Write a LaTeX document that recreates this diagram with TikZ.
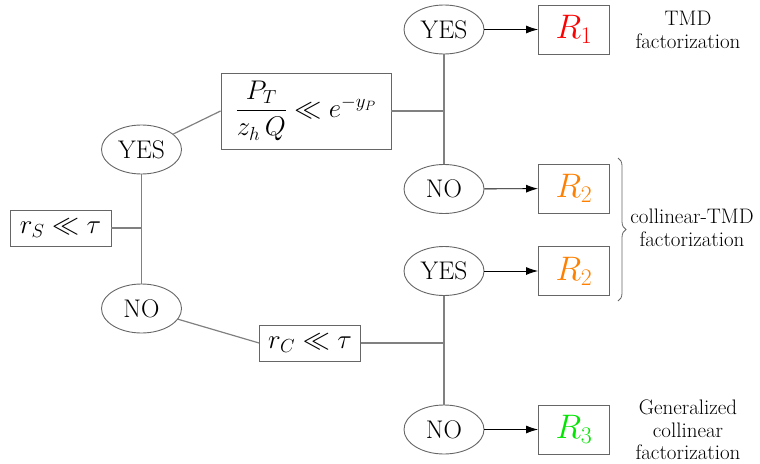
\RequirePackage{fix-cm}
\documentclass[tikz,border=0pt]{standalone}
\usepackage{amsmath}
\usepackage{tikz}
\usetikzlibrary{shapes.geometric, arrows.meta, decorations.pathreplacing, calc}
\definecolor{rone}{HTML}{FF0000}
\definecolor{rtwo}{HTML}{FF8000}
\definecolor{rthree}{HTML}{00E600}
\tikzset{
	decision/.style={ellipse, draw=black!60, line width=0.9pt, inner sep=0pt,
		minimum width=80pt, minimum height=49pt, font=\fontsize{25.5}{30}\selectfont}
}
\tikzset{
	condbox/.style={rectangle, draw=black!60, line width=0.9pt, inner sep=0pt,
		font=\fontsize{27}{32}\selectfont},
	resultbox/.style={rectangle, draw=black!60, line width=0.9pt, inner sep=0pt,
		minimum width=71pt, minimum height=49pt, font=\fontsize{34}{38}\selectfont},
	link/.style={draw=black!50, line width=1.2pt},
	outcome/.style={draw=black, line width=0.9pt, -{Latex[length=12pt,width=8pt]}},
	sidetext/.style={align=center, font=\fontsize{21}{22.5}\selectfont}
}

\begin{document}
\begin{tikzpicture}[x=1pt, y=-1pt]
      \useasboundingbox (0,0) rectangle (760,463);

      % first test: soft scale
      \node[condbox, minimum width=101pt, minimum height=36pt] (rS) at (60.5,228) {$r_S \ll \tau$};
      \node[decision] (yesA) at (141.5,149.5) {YES};
      \node[decision] (noA) at (141.5,308.5) {NO};
      \coordinate (jA) at (141.5,228);
      \draw[link] (yesA) -- (noA);
      \draw[link] (rS.east) -- (jA);

      % second tests
      \node[condbox, minimum width=170pt, minimum height=76pt] (ptq) at (306,111)
        {$\dfrac{P_T}{z_h\,Q} \ll e^{-y_P}$};
      \node[condbox, minimum width=101pt, minimum height=36pt] (rC) at (310,343) {$r_C \ll \tau$};
      \draw[link] (yesA) -- (ptq.west);
      \draw[link] (noA) -- (rC.west);

      % answers to the second tests
      \node[decision] (yesB) at (444,29.5) {YES};
      \node[decision] (noB) at (444,189) {NO};
      \node[decision] (yesC) at (444,271) {YES};
      \node[decision] (noC) at (444,429.5) {NO};
      \draw[link] (yesB) -- (noB);
      \draw[link] (yesC) -- (noC);
      \draw[link] (ptq.east) -- (ptq.east -| yesB);
      \draw[link] (rC.east) -- (rC.east -| yesC);

      % regions
      \node[resultbox] (R1) at (574,29.5) {$\color{rone}R_1$};
      \node[resultbox] (R2a) at (574,188.5) {$\color{rtwo}R_2$};
      \node[resultbox] (R2b) at (574,271) {$\color{rtwo}R_2$};
      \node[resultbox] (R3) at (574,429.5) {$\color{rthree}R_3$};
      \draw[outcome] (yesB) -- (R1);
      \draw[outcome] (noB) -- (R2a);
      \draw[outcome] (yesC) -- (R2b);
      \draw[outcome] (noC) -- (R3);

      % kind of factorization
      \node[sidetext] (tmd) at (688,30) {TMD\\factorization};
      \coordinate (brtop) at (618,158);
      \coordinate (brbot) at (618,301);
      \draw[black!60, line width=0.8pt, decorate, decoration={brace, amplitude=8pt}] (brtop) -- (brbot);
      \node[sidetext] (coltmd) at (692,228) {collinear-TMD\\factorization};
      \node[sidetext] (gencol) at (688,430) {Generalized\\collinear\\factorization};
    \end{tikzpicture}
\end{document}
